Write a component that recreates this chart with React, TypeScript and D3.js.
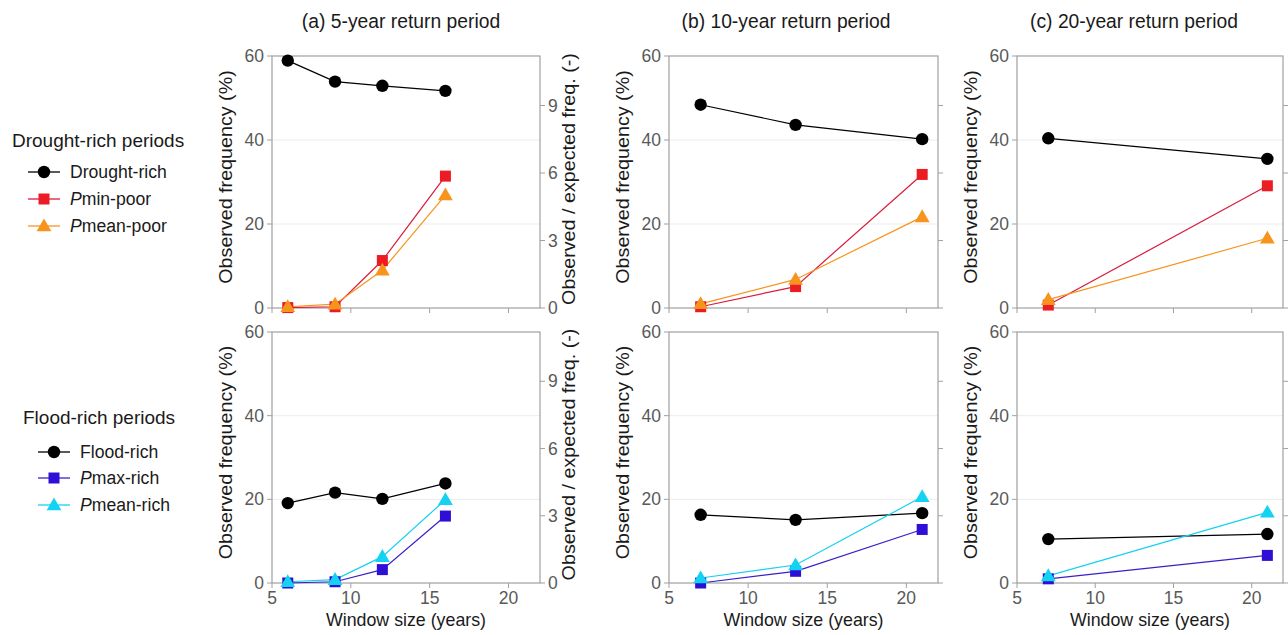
import React from "react";
import * as d3 from "d3";

// ---------- data ----------
const panelTitles = ["(a) 5-year return period", "(b) 10-year return period", "(c) 20-year return period"];
const windowsA = [6, 9, 12, 16];
const windowsB = [7, 13, 21];
const windowsC = [7, 21];

// Drought-rich periods (top row)
const droughtRichA = [58.9, 53.9, 52.9, 51.7];
const pminPoorA = [0.1, 0.3, 11.3, 31.4];
const pmeanPoorA = [0.3, 0.9, 9.0, 26.9];
const droughtRichB = [48.4, 43.6, 40.2];
const pminPoorB = [0.3, 5.1, 31.8];
const pmeanPoorB = [1.0, 6.8, 21.7];
const droughtRichC = [40.4, 35.5];
const pminPoorC = [0.7, 29.1];
const pmeanPoorC = [2.0, 16.6];

// Flood-rich periods (bottom row)
const floodRichA = [19.1, 21.6, 20.1, 23.8];
const pmaxRichA = [0.0, 0.3, 3.2, 16.0];
const pmeanRichA = [0.3, 0.8, 6.3, 19.9];
const floodRichB = [16.3, 15.1, 16.7];
const pmaxRichB = [0.0, 2.8, 12.8];
const pmeanRichB = [1.2, 4.3, 20.6];
const floodRichC = [10.5, 11.7];
const pmaxRichC = [1.0, 6.6];
const pmeanRichC = [1.7, 16.9];

const xTicks = [5, 10, 15, 20];
const yTicks = [0, 20, 40, 60];
const yGrid = [20, 40];
const ratioTicks = [0, 3, 6, 9];

const COLORS = {
  black: "#000000",
  red: "#ec1c24",
  redLine: "#d81b3c",
  orange: "#f7941d",
  blue: "#2e0fd6",
  blueLine: "#3a1fc8",
  cyan: "#14d2f2",
};

type Series = { values: number[]; color: string; line: string; shape: "circle" | "square" | "triangle" };

const panelX = [
  [272, 540],
  [669, 938],
  [1017, 1283],
];
const rowY = [
  [56, 308],
  [332, 583],
];

const FONT = "'Liberation Sans', Arial, Helvetica, sans-serif";

function Marker({ shape, x, y, color }: { shape: string; x: number; y: number; color: string }) {
  if (shape === "circle") return <circle cx={x} cy={y} r={6.2} fill={color} />;
  if (shape === "square") return <rect x={x - 5.5} y={y - 5.5} width={11} height={11} fill={color} />;
  const p = d3.symbol().type(d3.symbolTriangle).size(95)();
  return <path d={p || ""} transform={`translate(${x},${y + 1})`} fill={color} />;
}

function Panel({
  col,
  row,
  xs,
  series,
}: {
  col: number;
  row: number;
  xs: number[];
  series: Series[];
}) {
  const [x0, x1] = panelX[col];
  const [y0, y1] = rowY[row];
  const x = d3.scaleLinear().domain([5, 22]).range([x0, x1]);
  const y = d3.scaleLinear().domain([0, 60]).range([y1, y0]);
  const yr = d3.scaleLinear().domain([0, 11.2]).range([y1, y0]);
  const line = d3
    .line<number>()
    .x((_, i) => x(xs[i]))
    .y((d) => y(d));
  const axisColor = "#a0a0a0";
  const tickColor = "#595959";
  const midY = (y0 + y1) / 2 - 5;
  return (
    <g>
      {yGrid.map((g) => (
        <line key={g} x1={x0} x2={x1} y1={y(g)} y2={y(g)} stroke="#ececec" strokeWidth={1} />
      ))}
      <rect x={x0} y={y0} width={x1 - x0} height={y1 - y0} fill="none" stroke={axisColor} strokeWidth={1.2} />
      {yTicks.map((t) => (
        <g key={t}>
          <line x1={x0 - 5} x2={x0} y1={y(t)} y2={y(t)} stroke={axisColor} />
          <text x={x0 - 8} y={y(t)} dy="0.35em" textAnchor="end" fontSize={17.5} fill={tickColor}>
            {t}
          </text>
        </g>
      ))}
      {ratioTicks.map((t) => (
        <g key={t}>
          <line x1={x1} x2={x1 + 5} y1={yr(t)} y2={yr(t)} stroke={axisColor} />
          {col === 0 && (
            <text x={x1 + 8} y={yr(t)} dy="0.35em" textAnchor="start" fontSize={17.5} fill={tickColor}>
              {t}
            </text>
          )}
        </g>
      ))}
      {xTicks.map((t) => (
        <g key={t}>
          <line x1={x(t)} x2={x(t)} y1={y1} y2={y1 + 5} stroke={axisColor} />
          {row === 1 && (
            <text x={x(t)} y={y1 + 21} textAnchor="middle" fontSize={17.5} fill={tickColor}>
              {t}
            </text>
          )}
        </g>
      ))}
      <text
        transform={`translate(${x0 - 40},${midY}) rotate(-90) scale(1.12,1)`}
        textAnchor="middle"
        fontSize={17.6}
        fill="#1a1a1a"
      >
        Observed frequency (%)
      </text>
      {col === 0 && (
        <text
          transform={`translate(${x1 + 35},${midY + 2}) rotate(-90) scale(1.12,1)`}
          textAnchor="middle"
          fontSize={17.6}
          fill="#1a1a1a"
        >
          Observed / expected freq. (-)
        </text>
      )}
      {row === 1 && (
        <text x={(x0 + x1) / 2} y={y1 + 43} textAnchor="middle" fontSize={17.8} fill="#1a1a1a">
          Window size (years)
        </text>
      )}
      {series.map((s, i) => (
        <path key={"l" + i} d={line(s.values) || ""} fill="none" stroke={s.line} strokeWidth={1.2} />
      ))}
      {series.map((s, i) => (
        <g key={"m" + i}>
          {s.values.map((v, j) => (
            <Marker key={j} shape={s.shape} x={x(xs[j])} y={y(v)} color={s.color} />
          ))}
        </g>
      ))}
    </g>
  );
}

function LegendEntry({
  x,
  y,
  color,
  line,
  shape,
  label,
}: {
  x: number;
  y: number;
  color: string;
  line: string;
  shape: string;
  label: React.ReactNode;
}) {
  return (
    <g>
      <line x1={x} x2={x + 32} y1={y} y2={y} stroke={line} strokeWidth={1.3} />
      <Marker shape={shape} x={x + 16} y={y} color={color} />
      <text x={x + 42} y={y} dy="0.35em" fontSize={17.6} fill="#1a1a1a">
        {label}
      </text>
    </g>
  );
}

export default function App() {
  const droughtSeries = (dr: number[], pmin: number[], pmean: number[]): Series[] => [
    { values: dr, color: COLORS.black, line: COLORS.black, shape: "circle" },
    { values: pmin, color: COLORS.red, line: COLORS.redLine, shape: "square" },
    { values: pmean, color: COLORS.orange, line: COLORS.orange, shape: "triangle" },
  ];
  const floodSeries = (fr: number[], pmax: number[], pmean: number[]): Series[] => [
    { values: fr, color: COLORS.black, line: COLORS.black, shape: "circle" },
    { values: pmax, color: COLORS.blue, line: COLORS.blueLine, shape: "square" },
    { values: pmean, color: COLORS.cyan, line: COLORS.cyan, shape: "triangle" },
  ];
  const titleX = [401, 786, 1134];
  return (
    <svg
      width={1288}
      height={635}
      style={{ position: "absolute", left: 0, top: 0, background: "#fff" }}
      fontFamily={FONT}
    >
      <rect width={1288} height={635} fill="#fff" />
      {panelTitles.map((t, i) => (
        <text key={t} x={titleX[i]} y={28} textAnchor="middle" fontSize={19.3} fill="#1a1a1a">
          {t}
        </text>
      ))}
      <Panel col={0} row={0} xs={windowsA} series={droughtSeries(droughtRichA, pminPoorA, pmeanPoorA)} />
      <Panel col={1} row={0} xs={windowsB} series={droughtSeries(droughtRichB, pminPoorB, pmeanPoorB)} />
      <Panel col={2} row={0} xs={windowsC} series={droughtSeries(droughtRichC, pminPoorC, pmeanPoorC)} />
      <Panel col={0} row={1} xs={windowsA} series={floodSeries(floodRichA, pmaxRichA, pmeanRichA)} />
      <Panel col={1} row={1} xs={windowsB} series={floodSeries(floodRichB, pmaxRichB, pmeanRichB)} />
      <Panel col={2} row={1} xs={windowsC} series={floodSeries(floodRichC, pmaxRichC, pmeanRichC)} />

      <text x={12} y={147} fontSize={19} fill="#1a1a1a">
        Drought-rich periods
      </text>
      <LegendEntry x={28} y={172} color={COLORS.black} line={COLORS.black} shape="circle" label="Drought-rich" />
      <LegendEntry
        x={28}
        y={199}
        color={COLORS.red}
        line={COLORS.redLine}
        shape="square"
        label={
          <>
            <tspan fontStyle="italic">P</tspan>
            <tspan>min-poor</tspan>
          </>
        }
      />
      <LegendEntry
        x={28}
        y={226}
        color={COLORS.orange}
        line={COLORS.orange}
        shape="triangle"
        label={
          <>
            <tspan fontStyle="italic">P</tspan>
            <tspan>mean-poor</tspan>
          </>
        }
      />

      <text x={23} y={424} fontSize={19} fill="#1a1a1a">
        Flood-rich periods
      </text>
      <LegendEntry x={38} y={452} color={COLORS.black} line={COLORS.black} shape="circle" label="Flood-rich" />
      <LegendEntry
        x={38}
        y={478}
        color={COLORS.blue}
        line={COLORS.blueLine}
        shape="square"
        label={
          <>
            <tspan fontStyle="italic">P</tspan>
            <tspan>max-rich</tspan>
          </>
        }
      />
      <LegendEntry
        x={38}
        y={505}
        color={COLORS.cyan}
        line={COLORS.cyan}
        shape="triangle"
        label={
          <>
            <tspan fontStyle="italic">P</tspan>
            <tspan>mean-rich</tspan>
          </>
        }
      />
    </svg>
  );
}
